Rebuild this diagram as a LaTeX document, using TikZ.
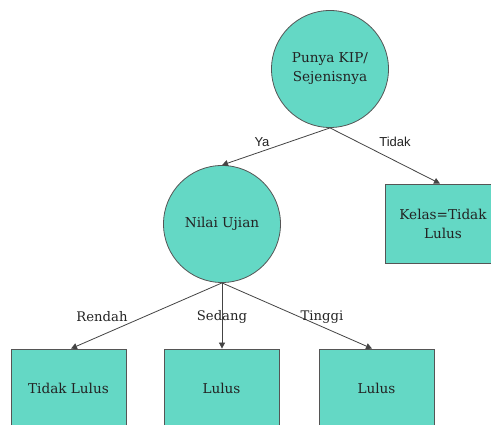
\documentclass[tikz,border=0pt]{standalone}
\usepackage{fontspec}
\setmainfont{DejaVu Serif}
\newfontfamily\labsans{Liberation Sans}
\usetikzlibrary{arrows.meta}
\definecolor{teal1}{RGB}{100,216,197}
\definecolor{edgegray}{RGB}{85,85,85}
\definecolor{txtgray}{RGB}{35,35,35}
\tikzset{
  decision/.style={circle, draw=edgegray, line width=0.8pt, fill=teal1, minimum size=117pt, inner sep=0pt, align=center, text=txtgray, font=\fontsize{13.6}{19}\selectfont},
  leafbox/.style={rectangle, draw=edgegray, line width=0.8pt, fill=teal1, minimum width=115pt, minimum height=79pt, inner sep=0pt, align=center, text=txtgray, font=\fontsize{13.6}{19}\selectfont},
  conn/.style={draw=edgegray!80!black, line width=0.8pt, -{Triangle[width=6pt,length=6pt]}},
  sanslab/.style={font=\labsans\fontsize{13}{14}\selectfont, text=txtgray, inner sep=0pt},
  seriflab/.style={font=\fontsize{13.2}{14}\selectfont, text=txtgray, inner sep=0pt}
}
\begin{document}
\begin{tikzpicture}[x=1pt,y=-1pt]
\useasboundingbox (0,0) rectangle (491,425);
\clip (0,0) rectangle (491,425);
\fill[white] (0,0) rectangle (491,425);
\node[decision] (kip) at (330,69) {Punya KIP/\\Sejenisnya};
\node[decision] (nilai) at (222,224) {Nilai Ujian};
\node[leafbox] (kelas) at (443,223.5) {Kelas=Tidak\\Lulus};
\node[leafbox] (tl) at (68.5,388.5) {Tidak Lulus};
\node[leafbox] (l1) at (221.5,388.5) {Lulus};
\node[leafbox] (l2) at (376.5,388.5) {Lulus};
\draw[conn] (kip.south) -- (nilai.north);
\draw[conn] (kip.south) -- ([xshift=-3pt]kelas.north);
\draw[conn] (nilai.south) -- ([xshift=2.5pt]tl.north);
\draw[conn] (nilai.south) -- ([xshift=0.5pt]l1.north);
\draw[conn] (nilai.south) -- ([xshift=-4.5pt]l2.north);
\node[sanslab] (ya) at (262,142) {Ya};
\node[sanslab] (tidak) at (395,142) {Tidak};
\node[seriflab] (rendah) at (102,317) {Rendah};
\node[seriflab] (sedang) at (222,317) {Sedang};
\node[seriflab] (tinggi) at (322,317) {Tinggi};
\end{tikzpicture}
\end{document}
